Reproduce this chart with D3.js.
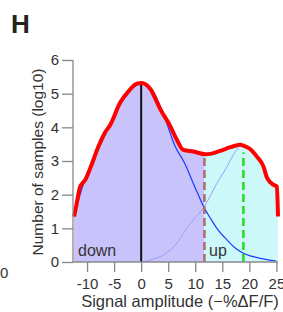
<!DOCTYPE html>
<html>
<head>
<meta charset="utf-8">
<script src="https://cdn.jsdelivr.net/npm/d3@7"></script>
<style>
  body { margin: 0; background: #fff; }
  text { font-family: "Liberation Sans", Arial, sans-serif; }
</style>
</head>
<body>
<div id="chart"></div>
<script>
var svgWidth = 283;
var svgHeight = 312;

var histX = [-12.4, -11.9, -11.3, -10.9, -10.3, -9.4, -7.9, -6.7, -5.7, -3.9, -2.35, -0.8, 0.1, 1.7, 3.5, 5.4, 6.6, 7.8, 9.7, 11.9, 13, 14.6, 16.5, 18.3, 19, 20.2, 21.4, 22.6, 23.3, 24.5, 25.1, 25.3];
var histY = [1.35, 1.75, 2.23, 2.33, 2.45, 2.79, 3.43, 3.84, 4.08, 4.73, 5.07, 5.3, 5.32, 5.14, 4.55, 4.03, 3.63, 3.33, 3.28, 3.2, 3.22, 3.3, 3.41, 3.48, 3.45, 3.35, 3.13, 2.84, 2.49, 2.29, 2.24, 1.35];

// "down" component fit (hidden under the histogram on the left)
var downX = [-12.2, -10.5, -9, -7.5, -6, -4, -2, 0, 2, 4, 6.3, 8, 10, 11.7, 12.8, 14, 15.9, 17.5, 18.9, 20, 22, 25];
var downY = [1.5, 2.4, 2.95, 3.5, 4.0, 4.65, 5.1, 5.3, 5.12, 4.45, 3.43, 2.95, 2.2, 1.6, 1.3, 1.0, 0.65, 0.4, 0.26, 0.19, 0.11, 0.03];

// "up" component fit
var upX = [0, 1.7, 4, 6, 9.1, 11.7, 14, 15.9, 17.1, 18];
var upY = [0.0, 0.06, 0.2, 0.45, 1.15, 1.65, 2.34, 2.84, 3.2, 3.4];

var threshold = 11.7;
var upPeak = 18.9;
var xTicks = [-10, -5, 0, 5, 10, 15, 20, 25];
var yTicks = [0, 1, 2, 3, 4, 5, 6];

var hist = histX.map((d, i) => ({x: d, y: histY[i]}));
var down = downX.map((d, i) => ({x: d, y: downY[i]}));
var up = upX.map((d, i) => ({x: d, y: upY[i]}));

var svg = d3.select("#chart")
    .append("svg")
    .attr("width", svgWidth)
    .attr("height", svgHeight);

var xScale = d3.scaleLinear().domain([-12.6, 25.3]).range([73, 278]);
var yScale = d3.scaleLinear().domain([0, 6]).range([262, 60]);

// clip regions for the two fills
var defs = svg.append("defs");
defs.append("clipPath").attr("id", "clipDown")
    .append("rect")
    .attr("x", xScale(-12.6)).attr("y", 0)
    .attr("width", xScale(threshold) - xScale(-12.6)).attr("height", svgHeight);
defs.append("clipPath").attr("id", "clipUp")
    .append("rect")
    .attr("x", xScale(threshold)).attr("y", 0)
    .attr("width", xScale(25.3) - xScale(threshold)).attr("height", svgHeight);

var area = d3.area()
    .x(d => xScale(d.x))
    .y0(yScale(0))
    .y1(d => yScale(d.y))
    .curve(d3.curveMonotoneX);

svg.append("path").datum(hist).attr("d", area)
    .attr("fill", "#c9c3fb").attr("clip-path", "url(#clipDown)");
svg.append("path").datum(hist).attr("d", area)
    .attr("fill", "#cdf8f9").attr("clip-path", "url(#clipUp)");

var line = d3.line()
    .x(d => xScale(d.x))
    .y(d => yScale(d.y))
    .curve(d3.curveMonotoneX);

// component fits
svg.append("path").datum(up).attr("d", line)
    .attr("fill", "none").attr("stroke", "#9c9cff").attr("stroke-width", 1);
svg.append("path").datum(down).attr("d", line)
    .attr("fill", "none").attr("stroke", "#1a3cff").attr("stroke-width", 1.2);

// markers
svg.append("line")
    .attr("x1", xScale(0)).attr("x2", xScale(0))
    .attr("y1", yScale(0)).attr("y2", yScale(5.3))
    .attr("stroke", "#111").attr("stroke-width", 2);
svg.append("line")
    .attr("x1", xScale(threshold)).attr("x2", xScale(threshold))
    .attr("y1", yScale(0)).attr("y2", yScale(3.15))
    .attr("stroke", "#b06a6a").attr("stroke-width", 2.5)
    .attr("stroke-dasharray", "8,4");
svg.append("line")
    .attr("x1", xScale(upPeak)).attr("x2", xScale(upPeak))
    .attr("y1", yScale(0)).attr("y2", yScale(3.25))
    .attr("stroke", "#22dd22").attr("stroke-width", 2.5)
    .attr("stroke-dasharray", "8,4");

// histogram outline
svg.append("path").datum(hist).attr("d", line)
    .attr("fill", "none").attr("stroke", "#ff0000").attr("stroke-width", 4)
    .attr("stroke-linejoin", "round");

// axes
var bottomAxis = d3.axisBottom(xScale).tickValues(xTicks).tickSize(10).tickPadding(6)
    .tickFormat(d => String(d));
var leftAxis = d3.axisLeft(yScale).tickValues(yTicks).tickSize(11).tickPadding(3)
    .tickFormat(d => String(d));

var gx = svg.append("g").attr("transform", `translate(0, ${yScale(0)})`).call(bottomAxis);
var gy = svg.append("g").attr("transform", `translate(${xScale(-12.6)}, 0)`).call(leftAxis);
[gx, gy].forEach(g => {
    g.selectAll("path, line").attr("stroke", "#888").attr("stroke-width", 1.3);
    g.select(".domain").attr("d", g === gx ? `M${xScale(-12.6)},0H${xScale(25.3)}` : `M0,${yScale(6)}V${yScale(0)}`);
    g.selectAll("text").attr("fill", "#333").style("font-size", "15px")
        .style("font-family", "'Liberation Sans', Arial, sans-serif");
});

svg.append("text")
    .attr("transform", `translate(43, ${(yScale(0) + yScale(6)) / 2 + 1}) rotate(-90)`)
    .attr("text-anchor", "middle")
    .attr("fill", "#333")
    .style("font-size", "15.5px")
    .text("Number of samples (log10)");

svg.append("text")
    .attr("x", 180).attr("y", 307)
    .attr("text-anchor", "middle")
    .attr("fill", "#333")
    .style("font-size", "16.5px")
    .text("Signal amplitude (−%ΔF/F)");

svg.append("text")
    .attr("x", 11).attr("y", 33)
    .attr("fill", "#222")
    .style("font-size", "26px").style("font-weight", "bold")
    .text("H");

svg.append("text").attr("x", 78).attr("y", 256)
    .attr("fill", "#333").style("font-size", "16px").text("down");
svg.append("text").attr("x", 209).attr("y", 256)
    .attr("fill", "#333").style("font-size", "16px").text("up");

// stray label from neighbouring panel
svg.append("text").attr("x", 0).attr("y", 278)
    .attr("fill", "#333").style("font-size", "15px").text("0");
</script>
</body>
</html>
